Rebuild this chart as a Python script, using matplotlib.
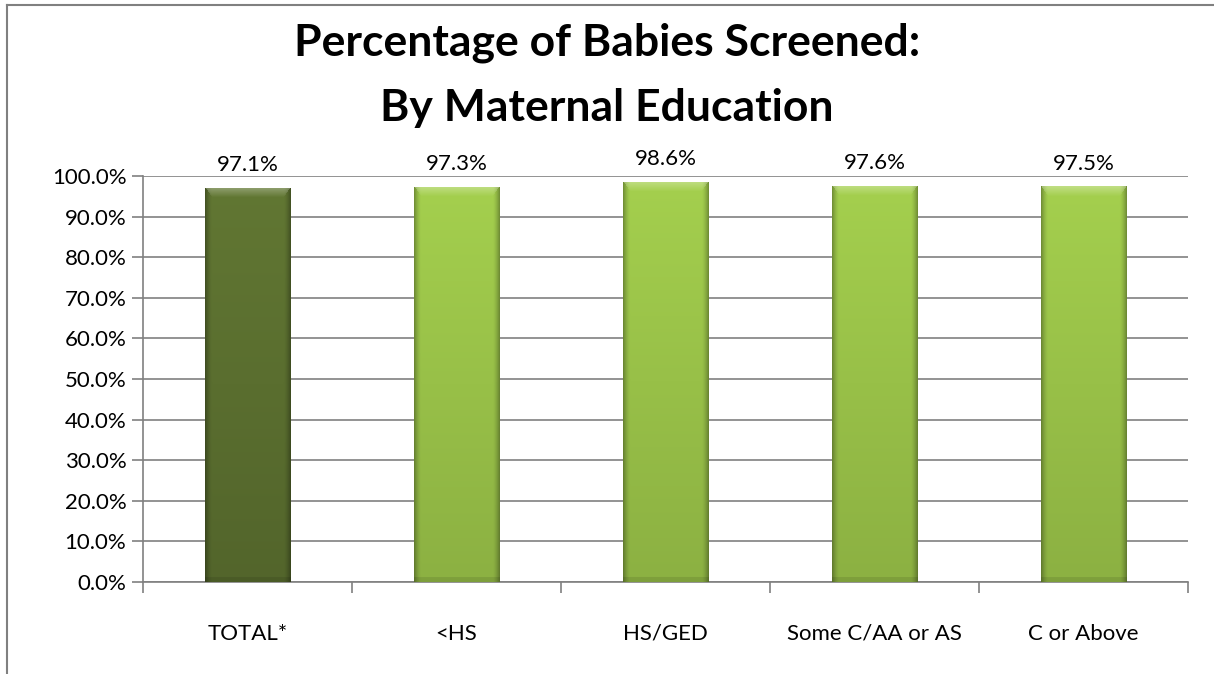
import matplotlib
matplotlib.use('Agg')
import matplotlib.pyplot as plt
import matplotlib.colors as mcolors
import numpy as np

categories = ['TOTAL*', '<HS', 'HS/GED', 'Some C/AA or AS', 'C or Above']
values = [97.1, 97.3, 98.6, 97.6, 97.5]
bar_colors = ['#5a6e2f', '#98c048', '#98c048', '#98c048', '#98c048']
yticks = np.arange(0, 101, 10)

plt.rcParams['font.family'] = ['Lato', 'DejaVu Sans']

fig = plt.figure(figsize=(12.14, 6.74), dpi=100)
ax = fig.add_axes([143 / 1214, 1 - 582 / 674, 1045 / 1214, 406 / 674])

x = np.arange(len(categories))
bars = ax.bar(x, values, width=0.41, color=bar_colors, zorder=2)

# bevel-like shading for each bar
for b, c in zip(bars, bar_colors):
    base = np.array(mcolors.to_rgb(c))
    nx, ny = 85, 400
    u = np.linspace(0, 1, nx)
    v = np.linspace(0, 1, ny)  # 0 top, 1 bottom
    # vertical gradient: lighter at top, darker at bottom
    vert = 1.08 - 0.16 * v
    d = np.minimum(u, 1 - u)
    edge = np.clip(1 - d / 0.08, 0, 1) ** 1.5
    shade = vert[:, None] * (1 - 0.3 * edge[None, :])
    img = base[None, None, :] * shade[:, :, None]
    # top bevel strip, lighter and fading downward
    tb = 0.025
    t = np.clip(1 - v / tb, 0, 1)[:, None] * np.ones((1, nx))
    inside = (v[:, None] / tb * 0.08) < d[None, :]
    light = 0.3 * t * inside
    img = img + (1 - img) * light[:, :, None]
    bottom = v > 0.988
    img[bottom] = img[bottom] * 0.9
    xl, w, h = b.get_x(), b.get_width(), b.get_height()
    im = ax.imshow(np.clip(img, 0, 1), extent=[xl, xl + w, 0, h], aspect='auto',
                   zorder=3, interpolation='bilinear')
    im.set_clip_path(b)

for xi, v in zip(x, values):
    ax.annotate(f'{v:.1f}%', (xi, v), xytext=(0, 9), textcoords='offset points',
                ha='center', va='bottom', fontsize=16)

ax.set_xlim(-0.5, len(categories) - 0.5)
ax.set_ylim(0, 100)
ax.set_yticks(yticks)
ax.set_yticklabels([f'{t:.1f}%' for t in yticks], fontsize=16)
ax.set_xticks(x)
ax.set_xticklabels(categories, fontsize=16)
ax.tick_params(axis='x', length=0, pad=30)
ax.set_xticks(np.arange(-0.5, len(categories)), minor=True)
ax.tick_params(axis='x', which='minor', length=8, color='#808080', width=1.2)
ax.tick_params(axis='y', length=8, color='#808080', width=1.2, pad=4)
ax.grid(axis='y', color='#808080', linewidth=1.2, zorder=0)
for s in ['top', 'right']:
    ax.spines[s].set_visible(False)
for s in ['left', 'bottom']:
    ax.spines[s].set_color('#808080')
    ax.spines[s].set_linewidth(1.2)

fig.text(0.5, 1 - 43 / 674, 'Percentage of Babies Screened:', ha='center', va='center',
         fontsize=32, fontweight='bold')
fig.text(0.5, 1 - 108 / 674, 'By Maternal Education', ha='center', va='center',
         fontsize=32, fontweight='bold')

# chart border
fig.add_artist(plt.Line2D([7 / 1214, 7 / 1214], [0, 1 - 5 / 674], color='#808080', lw=1.5))
fig.add_artist(plt.Line2D([7 / 1214, 1], [1 - 5 / 674, 1 - 5 / 674], color='#808080', lw=1.5))

fig.savefig('out.png', dpi=100)
